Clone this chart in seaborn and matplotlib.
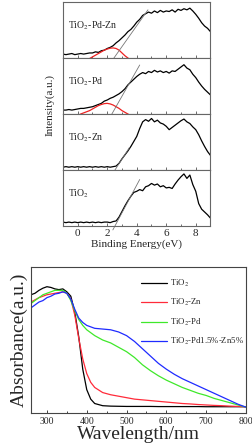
import matplotlib
matplotlib.use("Agg")
import matplotlib.pyplot as plt
import seaborn as sns
import pandas as pd
from matplotlib.ticker import MultipleLocator

# ---- top: valence band XPS (binding energy grid, 0.2 eV steps) ----
energy = [round(-1.0 + 0.2 * i, 1) for i in range(51)]

pdzn = [.07, .06, .07, .08, .06, .07, .08, .07, .08, .09,
        .09, .11, .10, .13, .14, .17, .19, .22, .27, .31,
        .36, .41, .47, .51, .57, .64, .69, .76, .79, .82,
        .80, .84, .81, .85, .82, .84, .83, .86, .82, .87,
        .85, .88, .86, .89, .84, .78, .71, .63, .57, .53, .47]
pd_only = [.07, .07, .08, .07, .08, .09, .10, .10, .11, .12,
           .13, .15, .17, .19, .23, .25, .28, .30, .33, .36,
           .40, .45, .52, .57, .62, .67, .71, .74, .72, .76,
           .74, .78, .75, .77, .74, .76, .73, .77, .76, .80,
           .84, .88, .82, .79, .71, .65, .57, .50, .44, .39, .34]
zn_only = [.05, .06, .05, .06, .05, .06, .05, .06, .05, .06,
           .05, .06, .05, .06, .05, .06, .05, .06, .07, .12,
           .20, .27, .34, .42, .51, .60, .74, .86, .90, .87,
           .92, .86, .89, .84, .82, .78, .72, .76, .80, .84,
           .88, .91, .86, .83, .77, .72, .63, .52, .42, .33, .26]
tio2 = [.07, .06, .07, .06, .07, .06, .07, .06, .07, .06,
        .07, .06, .07, .06, .07, .07, .06, .08, .09, .16,
        .26, .36, .45, .53, .60, .62, .65, .63, .70, .72,
        .76, .73, .75, .70, .72, .68, .69, .67, .75, .82,
        .88, .93, .85, .91, .74, .62, .40, .30, .25, .20, .14]

# red fitted peaks
fit_e1 = [0.6, 0.8, 1.0, 1.2, 1.4, 1.6, 1.8, 2.0, 2.2, 2.4, 2.6, 2.8, 3.0, 3.2, 3.4, 3.6]
fit_y1 = [-.04, -.01, .02, .05, .08, .11, .14, .16, .175, .18, .17, .14, .09, .04, .0, -.04]
fit_e2 = [0.0, 0.2, 0.4, 0.6, 0.8, 1.0, 1.2, 1.4, 1.6, 1.8, 2.0, 2.2, 2.4, 2.6, 2.8, 3.0, 3.2, 3.4, 3.6]
fit_y2 = [-.03, .0, .02, .04, .06, .09, .12, .15, .17, .185, .19, .18, .16, .13, .10, .06, .03, .0, -.03]

# tangent lines (x0, x1), (y0, y1)
tangents = [((2.4, 4.76), (-0.02, 0.86)),
            ((2.27, 4.2), (-0.02, 0.875)),
            ((2.4, 3.5), (-0.05, 0.40)),
            ((2.38, 4.2), (-0.07, 0.83))]

panel_names = ["TiO$_2$-Pd-Zn", "TiO$_2$-Pd", "TiO$_2$-Zn", "TiO$_2$"]
panel_data = [pdzn, pd_only, zn_only, tio2]
fits = [(fit_e1, fit_y1), (fit_e2, fit_y2), None, None]

# ---- bottom: UV-vis absorbance ----
wavelength = [260, 270, 280, 290, 300, 310, 320, 330, 340, 350, 360, 370, 380, 390,
              400, 410, 420, 440, 460, 480, 500, 520, 540, 560, 580, 600, 620, 640,
              660, 680, 700, 720, 740, 760, 780, 800]
abs_tio2 = [.81, .82, .84, .855, .865, .86, .85, .845, .85, .83, .80, .69, .52, .30,
            .16, .095, .065, .05, .047, .046, .045, .045, .045, .045, .044, .044, .044, .044,
            .044, .044, .043, .043, .043, .043, .043, .043]
abs_zn = [.76, .775, .79, .80, .81, .815, .82, .825, .83, .82, .78, .67, .51, .37,
          .27, .21, .175, .14, .125, .115, .105, .095, .09, .085, .08, .075, .07, .065,
          .062, .058, .055, .052, .05, .047, .045, .042]
abs_pd = [.75, .77, .79, .81, .82, .83, .84, .84, .84, .82, .77, .70, .64, .60,
          .57, .55, .53, .50, .48, .45, .42, .38, .33, .29, .255, .225, .20, .175,
          .155, .135, .12, .10, .085, .07, .055, .04]
abs_pdzn = [.72, .74, .76, .77, .79, .80, .815, .82, .83, .82, .78, .71, .65, .62,
            .60, .59, .58, .575, .57, .555, .53, .49, .44, .39, .34, .30, .265, .235,
            .21, .185, .16, .135, .11, .085, .06, .04]
uv_labels = ["TiO$_2$", "TiO$_2$-Zn", "TiO$_2$-Pd", "TiO$_2$-Pd1.5%-Zn5%"]
uv_colors = ["black", "#ff2b3a", "#3fe82a", "#1f2bff"]

sns.set_style("ticks")
plt.rcParams["font.family"] = ["Liberation Serif", "DejaVu Serif"]
plt.rcParams["mathtext.fontset"] = "stix"

fig = plt.figure(figsize=(2.53, 4.46), dpi=100)
W, H = 253.0, 446.0

# four stacked panels
ax_left, ax_right = 63 / W, 210.5 / W
top_px, ph = 2.0, 56.0
axes = []
for i in range(4):
    y0 = 1 - (top_px + ph * (i + 1)) / H
    ax = fig.add_axes([ax_left, y0, ax_right - ax_left, ph / H])
    axes.append(ax)
    sns.lineplot(x=energy, y=panel_data[i], ax=ax, color="black", lw=0.9, estimator=None)
    if fits[i] is not None:
        sns.lineplot(x=fits[i][0], y=fits[i][1], ax=ax, color="#ee2222", lw=0.9, estimator=None)
    ax.plot(tangents[i][0], tangents[i][1], color="#777777", lw=0.6, clip_on=False)
    ax.set_xlim(-1, 9)
    ax.set_ylim(0, 1)
    ax.set_yticks([])
    ax.xaxis.set_major_locator(MultipleLocator(2))
    ax.xaxis.set_minor_locator(MultipleLocator(1))
    ax.tick_params(axis="x", which="both", direction="in", length=2.5, width=0.6,
                   labelsize=8, pad=2, color="#555555")
    ax.tick_params(axis="x", which="minor", length=1.5)
    for s in ax.spines.values():
        s.set_color("#666666")
        s.set_linewidth(0.8)
    ax.text(0.035, 0.58, panel_names[i], transform=ax.transAxes, fontsize=7,
            va="center", ha="left")
    if i < 3:
        ax.set_xticklabels([])
    else:
        ax.set_xlabel("Binding Energy(eV)", fontsize=8, labelpad=1)

fig.text(50 / W, 1 - 105 / H, "Intensity(a.u.)", rotation=90, ha="center", va="center",
         fontsize=8)

# absorbance panel
bx0, bx1, by0, by1 = 31 / W, 246 / W, 1 - 413 / H, 1 - 267 / H
axb = fig.add_axes([bx0, by0, bx1 - bx0, by1 - by0])
uv = pd.DataFrame({"wl": wavelength, uv_labels[0]: abs_tio2, uv_labels[1]: abs_zn,
                   uv_labels[2]: abs_pd, uv_labels[3]: abs_pdzn})
uv_long = uv.melt(id_vars="wl", var_name="sample", value_name="abs")
sns.lineplot(data=uv_long, x="wl", y="abs", hue="sample", hue_order=uv_labels,
             palette=uv_colors, ax=axb, lw=0.9, estimator=None)
axb.set_xlim(260, 800)
axb.set_ylim(0, 1)
axb.set_yticks([])
axb.xaxis.set_major_locator(MultipleLocator(100))
axb.xaxis.set_minor_locator(MultipleLocator(50))
axb.tick_params(axis="x", which="both", direction="in", length=2.5, width=0.6,
                labelsize=7, pad=3)
axb.tick_params(axis="x", which="minor", length=1.5)
for s in axb.spines.values():
    s.set_color("#444444")
    s.set_linewidth(0.8)
axb.set_xlabel("Wavelength/nm", fontsize=14, labelpad=0)
axb.set_ylabel("Absorbance(a.u.)", fontsize=14, labelpad=2)
leg = axb.legend(loc="upper left", bbox_to_anchor=(0.48, 0.975), frameon=False,
                 fontsize=6.3, handlelength=3.0, labelspacing=0.95, handletextpad=0.3,
                 borderaxespad=0.4)
for line in leg.get_lines():
    line.set_linewidth(0.9)

fig.savefig("out.png", dpi=100)
